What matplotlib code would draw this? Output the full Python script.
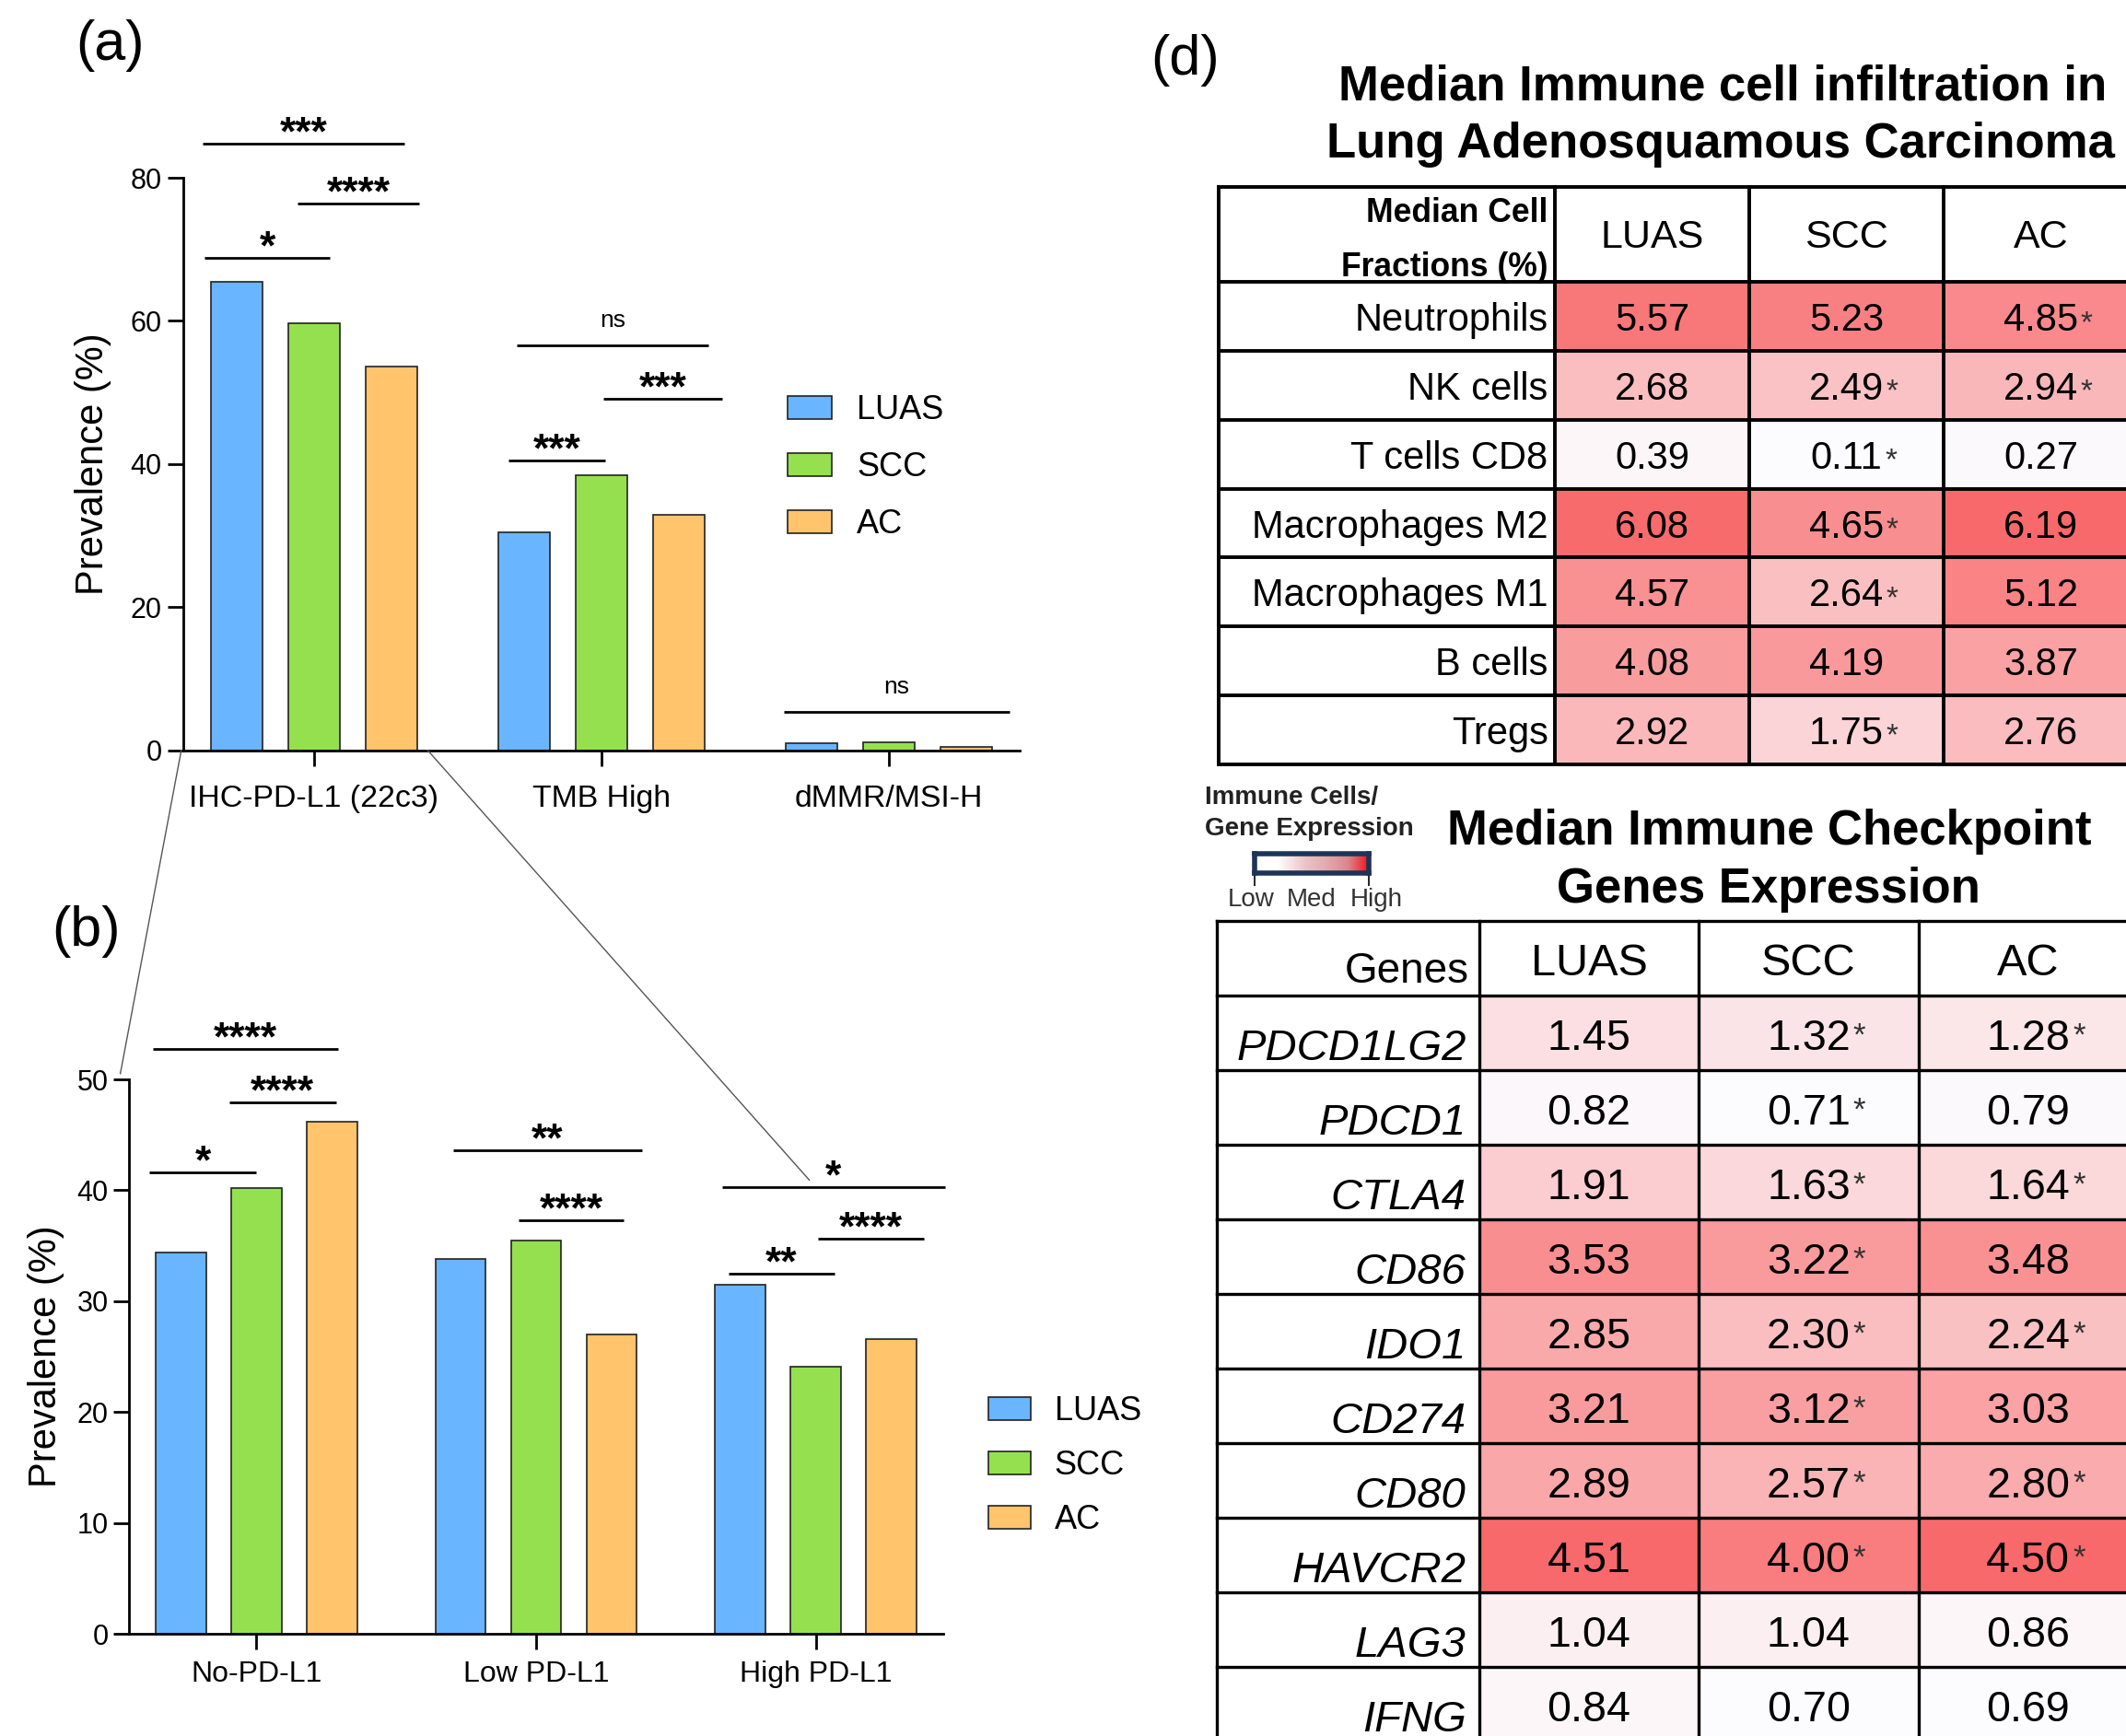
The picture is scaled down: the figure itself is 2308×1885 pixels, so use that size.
import numpy as np
import matplotlib
matplotlib.use('Agg')
import matplotlib.pyplot as plt
from matplotlib import font_manager
from matplotlib.colors import LinearSegmentedColormap
from matplotlib.patches import ConnectionPatch

plt.rcParams['font.family'] = ['Liberation Sans', 'DejaVu Sans']
_names = {f.name for f in font_manager.fontManager.ttflist}
if 'Liberation Sans Narrow' in _names:
    NARROW, NARROW_FS = ['Liberation Sans Narrow', 'DejaVu Sans'], 14.5
else:
    NARROW, NARROW_FS = ['Liberation Sans', 'DejaVu Sans'], 12.8

W, H = 2308, 1885
DPI = 200

# ---- data -------------------------------------------------------------
series = ['LUAS', 'SCC', 'AC']
bar_colors = ['#6AB5FF', '#95E04F', '#FFC46C']

groups_a = ['IHC-PD-L1 (22c3)', 'TMB High', 'dMMR/MSI-H']
luas_a = [65.5, 30.5, 1.0]
scc_a = [59.7, 38.4, 1.1]
ac_a = [53.6, 32.9, 0.5]

groups_b = ['No-PD-L1', 'Low PD-L1', 'High PD-L1']
luas_b = [34.4, 33.8, 31.5]
scc_b = [40.2, 35.5, 24.1]
ac_b = [46.2, 27.0, 26.6]

# significance brackets: group, from, to (offset from group centre), height, label
sig_a = [(0, -0.387, 0.313, 84.7, '***'), (0, -0.056, 0.365, 76.4, '****'),
         (0, -0.382, 0.056, 68.8, '*'), (1, -0.294, 0.372, 56.6, 'ns'),
         (1, 0.005, 0.421, 49.1, '***'), (1, -0.323, 0.012, 40.5, '***'),
         (2, -0.367, 0.419, 5.4, 'ns')]
sig_b = [(0, -0.371, 0.292, 52.7, '****'), (0, -0.097, 0.285, 47.95, '****'),
         (0, -0.381, 0.0, 41.6, '*'), (1, -0.297, 0.379, 43.6, '**'),
         (1, -0.062, 0.313, 37.3, '****'), (2, -0.336, 0.462, 40.3, '*'),
         (2, 0.006, 0.385, 35.6, '****'), (2, -0.313, 0.066, 32.5, '**')]

cells = ['Neutrophils', 'NK cells', 'T cells CD8', 'Macrophages M2',
         'Macrophages M1', 'B cells', 'Tregs']
cells_luas = [5.57, 2.68, 0.39, 6.08, 4.57, 4.08, 2.92]
cells_scc = [5.23, 2.49, 0.11, 4.65, 2.64, 4.19, 1.75]
cells_ac = [4.85, 2.94, 0.27, 6.19, 5.12, 3.87, 2.76]
cells_star_scc = [0, 1, 1, 1, 1, 0, 1]
cells_star_ac = [1, 1, 0, 0, 0, 0, 0]

genes = ['PDCD1LG2', 'PDCD1', 'CTLA4', 'CD86', 'IDO1', 'CD274', 'CD80',
         'HAVCR2', 'LAG3', 'IFNG']
genes_luas = [1.45, 0.82, 1.91, 3.53, 2.85, 3.21, 2.89, 4.51, 1.04, 0.84]
genes_scc = [1.32, 0.71, 1.63, 3.22, 2.30, 3.12, 2.57, 4.00, 1.04, 0.70]
genes_ac = [1.28, 0.79, 1.64, 3.48, 2.24, 3.03, 2.80, 4.50, 0.86, 0.69]
genes_star_scc = [1, 1, 1, 1, 1, 1, 1, 1, 0, 0]
genes_star_ac = [1, 0, 1, 0, 1, 0, 1, 1, 0, 0]

heat = LinearSegmentedColormap.from_list('wr', ['#FCFCFF', '#F8696B'])
legend_cmap = LinearSegmentedColormap.from_list(
    'leg', [(0, '#FFFFFF'), (0.2, '#FFFFFF'), (0.45, '#EBC2C6'),
            (0.62, '#E4ABB0'), (0.82, '#DB868D'), (1.0, '#F0141E')])


def box(l, t, r, b):
    # pixel box -> figure fraction rect
    return [l / W, 1 - b / H, (r - l) / W, (b - t) / H]


fig = plt.figure(figsize=(W / DPI, H / DPI), dpi=DPI)


def bar_panel(ax, groups, vals, sigs, xpad, ypad):
    x = np.arange(len(groups))
    bars = []
    for i, v in enumerate(vals):
        bars.append(ax.bar(x + (i - 1) * 0.27, v, 0.18, color=bar_colors[i],
                           edgecolor='#222222', linewidth=0.6))
    ax.set_xlim(-0.455, 2.455)
    ax.set_xticks(x)
    ax.set_xticklabels(groups)
    for s in ['top', 'right']:
        ax.spines[s].set_visible(False)
    for s in ['left', 'bottom']:
        ax.spines[s].set_linewidth(1.0)
    ax.tick_params(axis='both', length=6, width=1.0)
    ax.tick_params(axis='x', pad=xpad)
    ax.tick_params(axis='y', pad=ypad)
    ax.set_ylabel('Prevalence (%)', fontsize=15)
    for g, x0, x1, y, lbl in sigs:
        ax.plot([g + x0, g + x1], [y, y], color='black', lw=1.0,
                clip_on=False, solid_capstyle='butt')
        if lbl == 'ns':
            ax.annotate(lbl, xy=(g + (x0 + x1) / 2, y), xytext=(0, 7),
                        textcoords='offset points', ha='center', va='baseline',
                        fontsize=9.5, annotation_clip=False)
        else:
            ax.annotate(lbl, xy=(g + (x0 + x1) / 2, y), xytext=(0, -0.5),
                        textcoords='offset points', ha='center', va='baseline',
                        fontsize=16, fontweight='bold', annotation_clip=False)
    return bars


# ---- panel (a) --------------------------------------------------------
ax_a = fig.add_axes(box(199, 193, 1107, 814.6))
bars_a = bar_panel(ax_a, groups_a, [luas_a, scc_a, ac_a], sig_a, 7.5, 2.5)
ax_a.set_ylim(0, 80)
ax_a.set_yticks([0, 20, 40, 60, 80])
ax_a.tick_params(axis='y', labelsize=11)
ax_a.tick_params(axis='x', labelsize=12.2)
ax_a.yaxis.set_label_coords(-0.086, 0.5)
ax_a.legend(bars_a, series, loc='upper left', frameon=False, fontsize=13,
            bbox_to_anchor=(855 / W, 1 - 428 / H), bbox_transform=fig.transFigure,
            borderpad=0, borderaxespad=0, handlelength=1.33, handleheight=0.72,
            handletextpad=0.75, labelspacing=0.75)

# ---- panel (b) --------------------------------------------------------
ax_b = fig.add_axes(box(140, 1172, 1024, 1774))
bars_b = bar_panel(ax_b, groups_b, [luas_b, scc_b, ac_b], sig_b, 4.5, 2)
ax_b.set_ylim(0, 50)
ax_b.set_yticks([0, 10, 20, 30, 40, 50])
ax_b.tick_params(axis='y', labelsize=11)
ax_b.tick_params(axis='x', labelsize=11.5)
ax_b.yaxis.set_label_coords(-0.079, 0.5)
ax_b.legend(bars_b, series, loc='upper left', frameon=False, fontsize=13,
            bbox_to_anchor=(1073 / W, 1 - 1515 / H), bbox_transform=fig.transFigure,
            borderpad=0, borderaxespad=0, handlelength=1.27, handleheight=0.68,
            handletextpad=0.72, labelspacing=0.67)

# zoom lines from (a) to (b)
for xa, xb, yb in [(-0.462, -0.486, 50.5), (0.395, 1.977, 40.9)]:
    con = ConnectionPatch(xyA=(xa, 0), coordsA=ax_a.transData,
                          xyB=(xb, yb), coordsB=ax_b.transData,
                          color='#555555', lw=0.5)
    fig.add_artist(con)

# panel labels
fig.text(120 / W, 1 - 50 / H, '(a)', fontsize=22, ha='center', va='center')
fig.text(93 / W, 1 - 1012 / H, '(b)', fontsize=22, ha='center', va='center')
fig.text(1287 / W, 1 - 65 / H, '(d)', fontsize=22, ha='center', va='center')


def heat_table(ax, vals, stars, label_w, head_h, lw, vfs, sfs, dy, sy):
    nr = vals.shape[0]
    ax.pcolormesh(np.arange(4), np.arange(nr + 1), vals, cmap=heat,
                  vmin=vals.min(), vmax=vals.max())
    ax.set_xlim(-label_w, 3)
    ax.set_ylim(nr, -head_h)
    ax.axis('off')
    for y in [-head_h] + list(range(nr + 1)):
        ax.plot([-label_w, 3], [y, y], color='black', lw=lw, clip_on=False,
                solid_capstyle='projecting')
    for x in [-label_w, 0, 1, 2, 3]:
        ax.plot([x, x], [-head_h, nr], color='black', lw=lw, clip_on=False,
                solid_capstyle='projecting')
    for r in range(nr):
        for c in range(3):
            t = ax.text(c + 0.5, r + 0.5 + dy, f'{vals[r, c]:.2f}', ha='center',
                        va='center', fontsize=vfs)
            if stars[r, c]:
                ax.annotate('*', xy=(1, sy), xycoords=t, xytext=(1, 0),
                            textcoords='offset points', ha='left', va='center',
                            fontsize=sfs, color='#333333')


# ---- table 1: immune cells -------------------------------------------
ax_t1 = fig.add_axes(box(1323, 203.3, 2321, 829.8))
v1 = np.column_stack([cells_luas, cells_scc, cells_ac])
s1 = np.column_stack([np.zeros(len(cells)), cells_star_scc, cells_star_ac])
hh1 = 103 / 74.8
lw1 = 365 / 211
heat_table(ax_t1, v1, s1, lw1, hh1, 1.4, 15, 12, 0.06, 0.42)
for r, name in enumerate(cells):
    ax_t1.text(-0.035, r + 0.56, name, ha='right', va='center', fontsize=15)
for c, name in enumerate(series):
    ax_t1.text(c + 0.5, -hh1 + 0.73, name, ha='center', va='center', fontsize=15.5)
ax_t1.text(-0.035, -hh1 + 0.38, 'Median Cell', ha='right', va='center',
           fontsize=NARROW_FS, fontweight='bold', family=NARROW)
ax_t1.text(-0.035, -hh1 + 1.17, 'Fractions (%)', ha='right', va='center',
           fontsize=NARROW_FS, fontweight='bold', family=NARROW)

fig.text(1870 / W, 1 - 108.4 / H, 'Median Immune cell infiltration in',
         ha='center', va='baseline', fontsize=19, fontweight='bold')
fig.text(1868 / W, 1 - 170.7 / H, 'Lung Adenosquamous Carcinoma',
         ha='center', va='baseline', fontsize=19, fontweight='bold')

# ---- table 2: checkpoint genes ----------------------------------------
ax_t2 = fig.add_axes(box(1320.5, 1000, 2321, 1891))
v2 = np.column_stack([genes_luas, genes_scc, genes_ac])
s2 = np.column_stack([np.zeros(len(genes)), genes_star_scc, genes_star_ac])
lw2 = 285.5 / 238.5
heat_table(ax_t2, v2, s2, lw2, 1.0, 1.2, 16.8, 12.5, 0.075, 0.55)
for r, name in enumerate(genes):
    ax_t2.text(-0.06, r + 0.86, name, ha='right', va='baseline', fontsize=17,
               style='italic')
for c, name in enumerate(series):
    ax_t2.text(c + 0.5, -0.425, name, ha='center', va='center', fontsize=17.5)
ax_t2.text(-0.046, -0.32, 'Genes', ha='right', va='center', fontsize=16.5)

fig.text(1921 / W, 1 - 916.7 / H, 'Median Immune Checkpoint',
         ha='center', va='baseline', fontsize=19, fontweight='bold')
fig.text(1920 / W, 1 - 980 / H, 'Genes Expression',
         ha='center', va='baseline', fontsize=19, fontweight='bold')

# colour key
fig.text(1307.5 / W, 1 - 873 / H, 'Immune Cells/', ha='left', va='baseline',
         fontsize=10, fontweight='bold', color='#222222')
fig.text(1307.5 / W, 1 - 906.7 / H, 'Gene Expression', ha='left', va='baseline',
         fontsize=10, fontweight='bold', color='#222222')
ax_cb = fig.add_axes(box(1362, 927, 1486, 948))
ax_cb.imshow(np.linspace(0, 1, 256)[None, :], cmap=legend_cmap, aspect='auto',
             extent=[0, 1, 0, 1])
ax_cb.set_yticks([])
ax_cb.set_xticks([0, 1])
ax_cb.set_xticklabels([])
ax_cb.tick_params(axis='x', length=5, width=0.6, color='black')
for s in ax_cb.spines.values():
    s.set_color('#1D3456')
    s.set_linewidth(2.0)
for xx, lbl in [(-0.03, 'Low'), (0.5, 'Med'), (1.065, 'High')]:
    ax_cb.text(xx, -1.38, lbl, transform=ax_cb.transAxes, ha='center',
               va='center', fontsize=10, color='#333333')

fig.savefig('out.png', dpi=DPI)
